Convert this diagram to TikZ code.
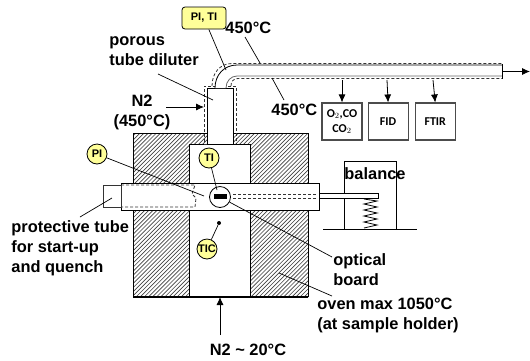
\documentclass[tikz,border=0pt]{standalone}
\usepackage{fontspec}
\setmainfont{Liberation Sans}
\newfontfamily\boxfont{Carlito}
\usetikzlibrary{arrows.meta}
\usetikzlibrary{shapes}
\usetikzlibrary{positioning}
\definecolor{gauge}{HTML}{FFFF99}
\begin{document}
\begin{tikzpicture}[x=1pt, y=-1pt, >={Latex[length=8pt,width=7pt]}, line width=0.8pt,
    caption/.style={font=\fontsize{16.4}{20}\selectfont\bfseries, align=left, inner sep=0pt},
    gaugedot/.style={circle, draw=black, fill=gauge, minimum size=20pt, inner sep=0pt, font=\fontsize{11}{12}\selectfont\bfseries},
    analyser/.style={draw=black!70, line width=1.1pt, minimum width=40pt, minimum height=37pt, inner sep=0pt, align=center, font=\fontsize{12}{15}\selectfont\boxfont\bfseries},
    leader/.style={draw=black, line width=0.7pt},
    tubedash/.style={draw=black!80, dash pattern=on 3pt off 2pt, line width=0.8pt}]
  \useasboundingbox (0,0) rectangle (530,360);

  % oven
  \begin{scope}
    \clip (133,133) rectangle (308,297);
    \foreach \i in {-42,...,44}
      \draw[black!75, line width=0.65pt] (133+\i*4.1,300) -- ++(175,-175);
  \end{scope}
  \draw (133,297) -- (133,133) -- (207,133) (233,133) -- (308,133) -- (308,297);
  \fill[white] (189,144) rectangle (250,297);
  \draw (189,297) -- (189,144) -- (250,144) -- (250,297);
  \draw[line width=1.2pt] (133,297) -- (308,297);

  % diluter and outlet line
  \node[draw=black, fill=white, minimum width=26pt, minimum height=56pt, inner sep=0pt] (diluter) at (220,116) {};
  \draw[tubedash] (207,144) -- (204,144) -- (204,86) -- (236,86) -- (236,144);
  \fill[white] (215,88) .. controls (215,75) and (224,65) .. (237,65) -- (502,65) -- (502,76) -- (237,76) .. controls (231,76) and (226,81) .. (226,88) -- cycle;
  \draw (215,88) .. controls (215,75) and (224,65) .. (237,65) -- (502,65);
  \draw[black!60] (226,88) .. controls (226,81) and (231,76) .. (237,76) -- (502,76);
  \draw[tubedash] (212,86) .. controls (212,73) and (220,63.5) .. (232,63.5) -- (502,63.5);
  \draw[tubedash] (231,86) .. controls (231,82) and (233,78.5) .. (238,78.5) -- (502,78.5);
  \draw (502,64) -- (502,79);
  \coordinate (outlet) at (502,71.5);
  \coordinate (exhaust) at (530,71.5);
  \draw[->] (outlet) -- (exhaust);

  % sample tube
  \node[draw=black, fill=white, minimum width=198pt, minimum height=27pt, inner sep=0pt] (tube) at (220,196.5) {};
  \node[draw=black!80, fill=white, minimum width=18pt, minimum height=22pt, inner sep=0pt] (stub) at (112,196) {};
  \draw[tubedash] (121,185) -- (195,185) -- (192,194) -- (196,198) -- (195,207) -- (121,207);
  \draw[tubedash] (233,194) -- (317,194) (233,198) -- (317,198);
  \node[circle, draw=black, fill=white, minimum size=21pt, inner sep=0pt] (window) at (220,197) {};
  \node[fill=black, minimum width=13pt, minimum height=5pt, inner sep=0pt] (sample) at (220.5,196.5) {};

  % balance
  \node[draw=black, minimum width=52pt, minimum height=68pt, inner sep=0pt] (scale) at (370,195) {};
  \node[caption] (balance) at (375,174) {balance};
  \draw[fill=white] (319,193) rectangle (378,198);
  \coordinate (floorl) at (323,229);
  \coordinate (floorr) at (417,229);
  \draw (floorl) -- (floorr);
  \draw (364,199) -- (377,201) -- (364,204) -- (377,207) -- (364,210) -- (377,213) -- (364,216) -- (377,219) -- (364,222) -- (377,225) -- (364,228);

  % analysers
  \node[analyser] (gasbox) at (342,121.5) {O$_2$,CO\\CO$_2$};
  \node[analyser, right=5pt of gasbox] (fid) {FID};
  \node[analyser, right=6pt of fid] (ftir) {FTIR};
  \draw[->] (342,80) -- (gasbox.north);
  \draw[->] (387,80) -- (fid.north);
  \draw[->] (433,80) -- (ftir.north);

  % gauges
  \node[draw=black, rounded corners=3pt, fill=gauge, minimum width=44pt, minimum height=22pt, inner sep=0pt, font=\fontsize{11}{12}\selectfont\bfseries] (pressT) at (204,18) {PI, TI};
  \node[gaugedot] (pi) at (97,154) {PI};
  \node[gaugedot] (ti) at (209,158) {TI};
  \node[gaugedot] (tic) at (207,249) {TIC};
  \node[circle, fill=black, minimum size=4pt, inner sep=0pt] (probe) at (219,223) {};

  % texts
  \node[caption, anchor=west] (hot1) at (225,28) {450°C};
  \node[caption, anchor=west] (hot2) at (271,110) {450°C};
  \node[caption, anchor=north west] (porous) at (109,36) {porous\\tube diluter};
  \node[caption, align=center] (nhot) at (142,112) {N2\\(450°C)};
  \node[caption, anchor=north west] (protect) at (11,220) {protective tube\\for start-up\\and quench};
  \node[caption, anchor=north west] (optical) at (333,253) {optical\\board};
  \node[caption, anchor=north west] (ovenmax) at (317,298) {oven max 1050°C\\(at sample holder)};
  \node[caption] (ncold) at (248,350) {N2 \textasciitilde{} 20°C};

  % leaders
  \draw[leader] (pressT) -- (226,70);
  \draw[leader] (245,37) -- (260,63);
  \draw[leader] (284,100) -- (272,78);
  \draw[leader] (158,74) -- (213,100);
  \draw[->] (166,107) -- (204,107);
  \draw[leader] (pi) -- (204,196);
  \draw[leader] (ti) -- (217,190);
  \draw[leader] (probe) -- (tic);
  \draw[leader] (window) -- (332,257);
  \draw[leader] (279,273) -- (332,296);
  \draw[leader] (80,217) -- (112,198);
  \coordinate (coldin) at (220,335);
  \draw[->] (coldin) -- (220,297);
\end{tikzpicture}
\end{document}
